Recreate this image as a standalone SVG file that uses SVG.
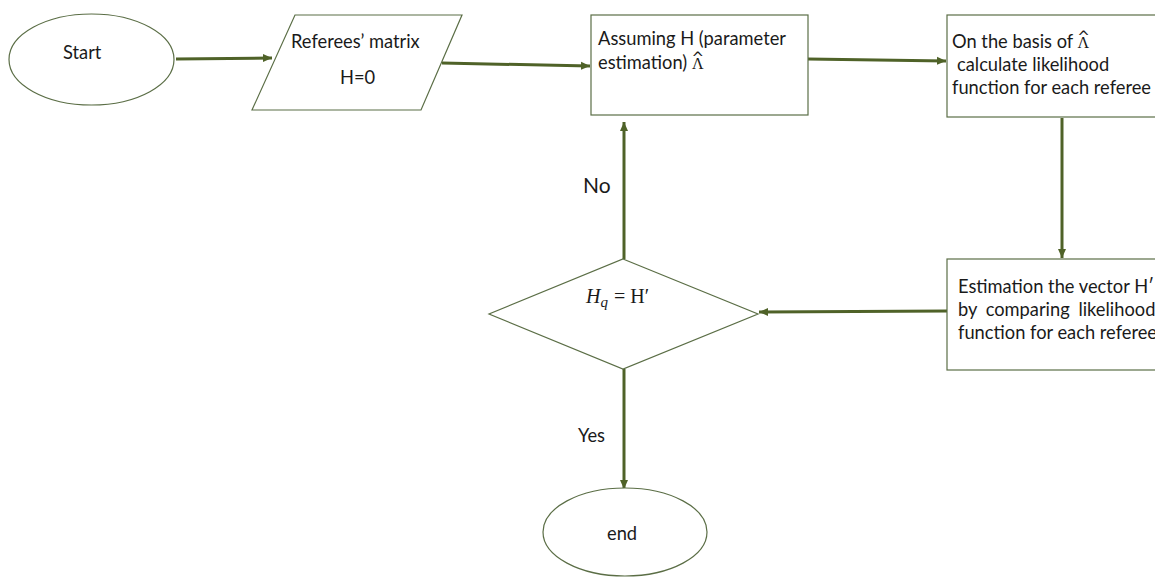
<svg xmlns="http://www.w3.org/2000/svg" width="1155" height="577" viewBox="0 0 1155 577">
<style>
.shape{fill:#ffffff;stroke:#5b6e46;stroke-width:1.2}
.conn{fill:none;stroke:#4f6228;stroke-width:3}
.t{font-family:Lato,"Open Sans","Liberation Sans",sans-serif;font-size:18.3px;fill:#1a1a1a}
.m{font-family:"Liberation Serif","DejaVu Serif",serif;font-size:20px;fill:#1a1a1a}
.lam{font-family:"Liberation Serif","DejaVu Serif",serif;font-size:16px}
.hat{font-family:"DejaVu Sans",sans-serif;font-size:15px}
</style>
<defs>
<marker id="ah" markerUnits="userSpaceOnUse" markerWidth="10" markerHeight="10" refX="9" refY="5" orient="auto">
<path d="M0,1 L9,5 L0,9 Z" fill="#4f6228"/>
</marker>
</defs>
<rect width="1155" height="577" fill="#ffffff"/>
<g id="connectors">
<line class="conn" x1="176" y1="59" x2="272" y2="58" marker-end="url(#ah)"/>
<line class="conn" x1="442" y1="63" x2="590" y2="66" marker-end="url(#ah)"/>
<line class="conn" x1="808" y1="59" x2="946" y2="61" marker-end="url(#ah)"/>
<line class="conn" x1="1062" y1="118" x2="1062" y2="258" marker-end="url(#ah)"/>
<line class="conn" x1="947" y1="311" x2="759" y2="312" marker-end="url(#ah)"/>
<line class="conn" x1="624" y1="259" x2="624" y2="122" marker-end="url(#ah)"/>
<line class="conn" x1="624" y1="369" x2="624" y2="489" marker-end="url(#ah)"/>
<text class="t" x="583" y="193" style="font-size:21px">No</text>
<text class="t" x="578" y="442">Yes</text>
</g>
<g id="start">
<ellipse class="shape" cx="91.5" cy="59.5" rx="82.5" ry="45.5"/>
<text class="t" x="63" y="59">Start</text>
</g>
<g id="input">
<polygon class="shape" points="295,15 462,15 421,110 252,110"/>
<text class="t" x="291" y="48">Referees’ matrix</text>
<text class="t" x="340" y="84">H=0</text>
</g>
<g id="assume">
<rect class="shape" x="591" y="15" width="217" height="100"/>
<text class="t" x="598" y="45">Assuming H (parameter</text>
<text class="t" x="598" y="69">estimation) <tspan class="lam">Λ</tspan><tspan class="hat" dx="-12" dy="-6">^</tspan></text>
</g>
<g id="likelihood">
<rect class="shape" x="947" y="15" width="220" height="102"/>
<text class="t" x="952" y="48">On the basis of <tspan class="lam">Λ</tspan><tspan class="hat" dx="-12" dy="-6">^</tspan></text>
<text class="t" x="957" y="71">calculate likelihood</text>
<text class="t" x="952" y="94">function for each referee</text>
</g>
<g id="estimate">
<rect class="shape" x="947" y="259" width="220" height="111"/>
<text class="t" x="958" y="293">Estimation the vector H′</text>
<text class="t" x="958" y="316" word-spacing="4">by comparing likelihood</text>
<text class="t" x="958" y="339">function for each referee</text>
</g>
<g id="decision">
<polygon class="shape" points="623,259 758,314 623,369 489,314"/>
<text class="m" x="586" y="303"><tspan font-style="italic">H</tspan><tspan font-style="italic" font-size="15" dy="4">q</tspan><tspan dy="-4" dx="6">=</tspan><tspan dx="5">H′</tspan></text>
</g>
<g id="end">
<ellipse class="shape" cx="625" cy="532" rx="82" ry="44"/>
<text class="t" x="607" y="540">end</text>
</g>
</svg>
